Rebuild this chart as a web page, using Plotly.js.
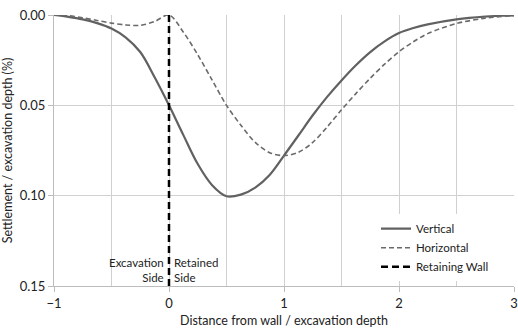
<!DOCTYPE html>
<html>
<head>
<meta charset="utf-8">
<script src="https://cdn.plot.ly/plotly-3.0.1.min.js"></script>
<style>html,body{margin:0;padding:0;background:#fff;}#chart{width:518px;height:328px;}</style>
</head>
<body>
<div id="chart"></div>
<script>
const xVertical = [-1, -0.875, -0.75, -0.625, -0.5, -0.375, -0.25, -0.125, 0, 0.125, 0.25, 0.375, 0.5, 0.625, 0.75, 0.875, 1.0, 1.125, 1.25, 1.375, 1.5, 1.625, 1.75, 1.875, 2.0, 2.125, 2.25, 2.5, 2.75, 3];
const vertical = [0, 0.001, 0.0024, 0.0045, 0.0075, 0.0125, 0.0205, 0.0345, 0.050, 0.0665, 0.0825, 0.0942, 0.1003, 0.0994, 0.0955, 0.0885, 0.0778, 0.0667, 0.0555, 0.0453, 0.0362, 0.0278, 0.0205, 0.0146, 0.0100, 0.0072, 0.0052, 0.0024, 0.0009, 0.0002];

const xHorizontal = [-1, -0.875, -0.75, -0.625, -0.5, -0.375, -0.25, -0.125, 0, 0.125, 0.25, 0.375, 0.5, 0.625, 0.75, 0.875, 1.0, 1.125, 1.25, 1.375, 1.5, 1.625, 1.75, 1.875, 2.0, 2.125, 2.25, 2.5, 2.75, 3];
const horizontal = [0, 0.0004, 0.0016, 0.003, 0.0045, 0.0055, 0.0057, 0.0036, 0, 0.0095, 0.022, 0.036, 0.050, 0.061, 0.0705, 0.0762, 0.0778, 0.0760, 0.0705, 0.0620, 0.0525, 0.0435, 0.0350, 0.0272, 0.0203, 0.0148, 0.0103, 0.0047, 0.0018, 0.0003];

const xWall = [0, 0];
const wall = [0, 0.15];

const xTicks = [-1, 0, 1, 2, 3];
const xTickText = ['\u22121', '0', '1', '2', '3'];
const yTicks = [0, 0.05, 0.10, 0.15];
const yTickText = ['0.00', '0.05', '0.10', '0.15'];

const font = 'Lato, "Open Sans", sans-serif';

const traces = [
  {x: xVertical, y: vertical, name: 'Vertical', mode: 'lines', line: {color: '#616161', width: 2.2, shape: 'spline', smoothing: 1}},
  {x: xHorizontal, y: horizontal, name: 'Horizontal', mode: 'lines', line: {color: '#6a6a6a', width: 1.6, dash: '5px,3px', shape: 'spline', smoothing: 0.9}},
  {x: xWall, y: wall, name: 'Retaining Wall', mode: 'lines', line: {color: '#000000', width: 2.5, dash: '7px,4px'}}
];

const layout = {
  width: 518, height: 328,
  margin: {l: 54, r: 4, t: 15, b: 42},
  paper_bgcolor: '#fff', plot_bgcolor: '#fff',
  font: {family: font, size: 12, color: '#222'},
  showlegend: true,
  legend: {x: 0.70, y: 0.265, xanchor: 'left', yanchor: 'top', bgcolor: '#fff', font: {size: 11.5, color: '#222'}, tracegroupgap: 0},
  xaxis: {
    range: [-1, 3], tickvals: xTicks, ticktext: xTickText,
    showgrid: true, gridcolor: '#d0d0d0', gridwidth: 1,
    minor: {dtick: 0.5, tick0: 0, showgrid: true, gridcolor: '#d0d0d0', gridwidth: 1},
    showline: true, linecolor: '#bcbcbc', linewidth: 1,
    ticks: 'outside', ticklen: 5, tickcolor: '#bcbcbc',
    zeroline: false, tickfont: {size: 13},
    title: {text: 'Distance from wall / excavation depth', font: {size: 12.5}, standoff: 10}
  },
  yaxis: {
    range: [0.15, 0], tickvals: yTicks, ticktext: yTickText,
    showgrid: true, gridcolor: '#d0d0d0', gridwidth: 1,
    showline: true, linecolor: '#bcbcbc', linewidth: 1,
    ticks: 'outside', ticklen: 5, tickcolor: '#bcbcbc',
    zeroline: false, tickfont: {size: 13},
    title: {text: 'Settlement / excavation depth (%)', font: {size: 12.5}, standoff: 4}
  },
  annotations: [
    {x: -0.03, y: 0.141, xref: 'x', yref: 'y', text: 'Excavation<br>Side', showarrow: false, xanchor: 'right', yanchor: 'middle', align: 'right', font: {size: 11.5, color: '#222'}},
    {x: 0.03, y: 0.141, xref: 'x', yref: 'y', text: 'Retained<br>Side', showarrow: false, xanchor: 'left', yanchor: 'middle', align: 'left', font: {size: 11.5, color: '#222'}}
  ]
};

Plotly.newPlot('chart', traces, layout, {displayModeBar: false, staticPlot: true});
</script>
</body>
</html>
